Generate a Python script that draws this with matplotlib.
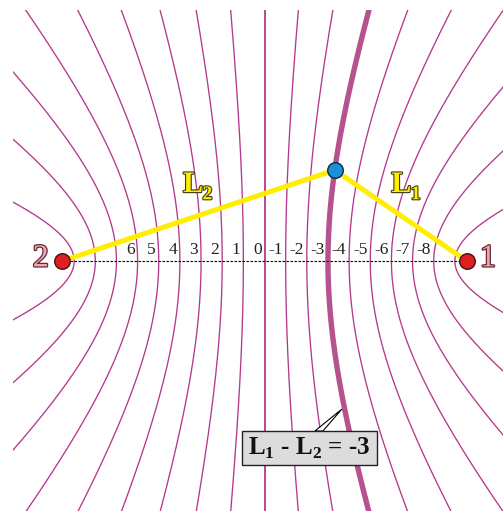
import numpy as np
import matplotlib
matplotlib.use("Agg")
import matplotlib.pyplot as plt
from matplotlib import patheffects as pe
from matplotlib.patches import Rectangle, Polygon

plt.rcParams['mathtext.fontset'] = 'custom'
plt.rcParams['mathtext.rm'] = 'Liberation Serif'
plt.rcParams['mathtext.bf'] = 'Liberation Serif:bold'

# Geometry (unit = 1 step of path difference L1 - L2)
focus_c = 4.78                         # foci at (-c, 0) -> "2" and (+c, 0) -> "1"
diff_levels = list(range(9, -10, -1))  # L1 - L2 for every drawn hyperbola
highlight_level = -3
label_values = [6, 5, 4, 3, 2, 1, 0, -1, -2, -3, -4, -5, -6, -7, -8]
point_x, point_y = 1.66, 2.15          # observer on the L1 - L2 = -3 curve
clip_half = 5.94                       # square drawing window

thin_color = '#b4388c'
thick_color = '#b5528f'
yellow = '#ffee00'

fig = plt.figure(figsize=(5.03, 5.11), dpi=100)
ax = fig.add_axes([0, 0, 1, 1])
ax.set_xlim(-6.253, 5.638)
ax.set_ylim(-5.910, 6.170)
ax.set_aspect('equal')
ax.axis('off')

clip_rect = Rectangle((-clip_half, -clip_half), 2 * clip_half, 2 * clip_half,
                      transform=ax.transData, facecolor='none', edgecolor='none')

# family of hyperbolas |L1 - L2| = const
for k in diff_levels:
    if k == 0:
        xs = np.array([0.0, 0.0])
        ys = np.array([-8.0, 8.0])
    else:
        a = abs(k) / 2.0
        b = np.sqrt(focus_c ** 2 - a ** 2)
        tmax = np.arcsinh(9.0 / b)
        t = np.linspace(-tmax, tmax, 600)
        xs = -np.sign(k) * a * np.cosh(t)
        ys = b * np.sinh(t)
    if k == highlight_level:
        lw, col, z = 3.9, thick_color, 2
    elif k == 0:
        lw, col, z = 1.3, thin_color, 1
    else:
        lw, col, z = 0.95, thin_color, 1
    ln, = ax.plot(xs, ys, color=col, lw=lw, zorder=z, solid_capstyle='butt')
    ln.set_clip_path(clip_rect)

# baseline between the foci
ax.plot([-focus_c, focus_c], [0, 0], color='black', lw=0.8,
        linestyle=(0, (2.2, 1.4)), zorder=3)

# value labels along the baseline
for v in label_values:
    ax.text(-v / 2.0 - 0.07, 0.06, str(v), ha='right', va='bottom',
            fontsize=12.5, family='Liberation Serif', color='#222222', zorder=4)

# distances from the observer to each focus
ax.plot([-focus_c, point_x, focus_c], [0, point_y, 0], color=yellow, lw=3.6,
        zorder=5, solid_capstyle='butt', solid_joinstyle='miter')

# foci and observer
ax.plot([-focus_c, focus_c], [0, 0], 'o', ms=11.2, mfc='#dd2020', mec='#4a1010',
        mew=1.0, zorder=6)
ax.plot([point_x], [point_y], 'o', ms=11.2, mfc='#1c90d8', mec='#102a40',
        mew=1.0, zorder=6)

# focus labels
focus_fx = [pe.withStroke(linewidth=1.8, foreground='#6b2a35')]
ax.text(-5.29, 0.05, '2', ha='center', va='center', fontsize=23,
        family='Liberation Serif', color='#eaa9ae', path_effects=focus_fx, zorder=7)
ax.text(5.28, 0.05, '1', ha='center', va='center', fontsize=23,
        family='Liberation Serif', color='#eaa9ae', path_effects=focus_fx, zorder=7)

# distance labels
lab_fx = [pe.withStroke(linewidth=1.6, foreground='#3c3c10')]
for lx, sub in [(-1.925, '2'), (3.00, '1')]:
    ax.text(lx, 1.63, 'L', ha='left', va='baseline', fontsize=21.5,
            fontweight='bold', family='Liberation Serif', color=yellow,
            path_effects=lab_fx, zorder=7)
    ax.text(lx + 0.46, 1.46, sub, ha='left', va='baseline', fontsize=14,
            fontweight='bold', family='Liberation Serif', color=yellow,
            path_effects=lab_fx, zorder=7)

# callout for the highlighted curve
ax.add_patch(Polygon([(1.83, -3.50), (1.19, -4.02), (1.38, -4.02)],
                     closed=True, facecolor='white', edgecolor='black',
                     lw=0.8, zorder=8))
ax.add_patch(Rectangle((-0.532, -4.823), 3.192, 0.804, facecolor='#dcdcdc',
                       edgecolor='#222222', lw=1.0, zorder=9))
ax.text(1.064, -4.43, r'L$_\mathbf{1}$ - L$_\mathbf{2}$ = -3', ha='center',
        va='center', fontsize=18, fontweight='bold', family='Liberation Serif',
        color='#111111', zorder=10)

fig.savefig('out.png', dpi=100)
